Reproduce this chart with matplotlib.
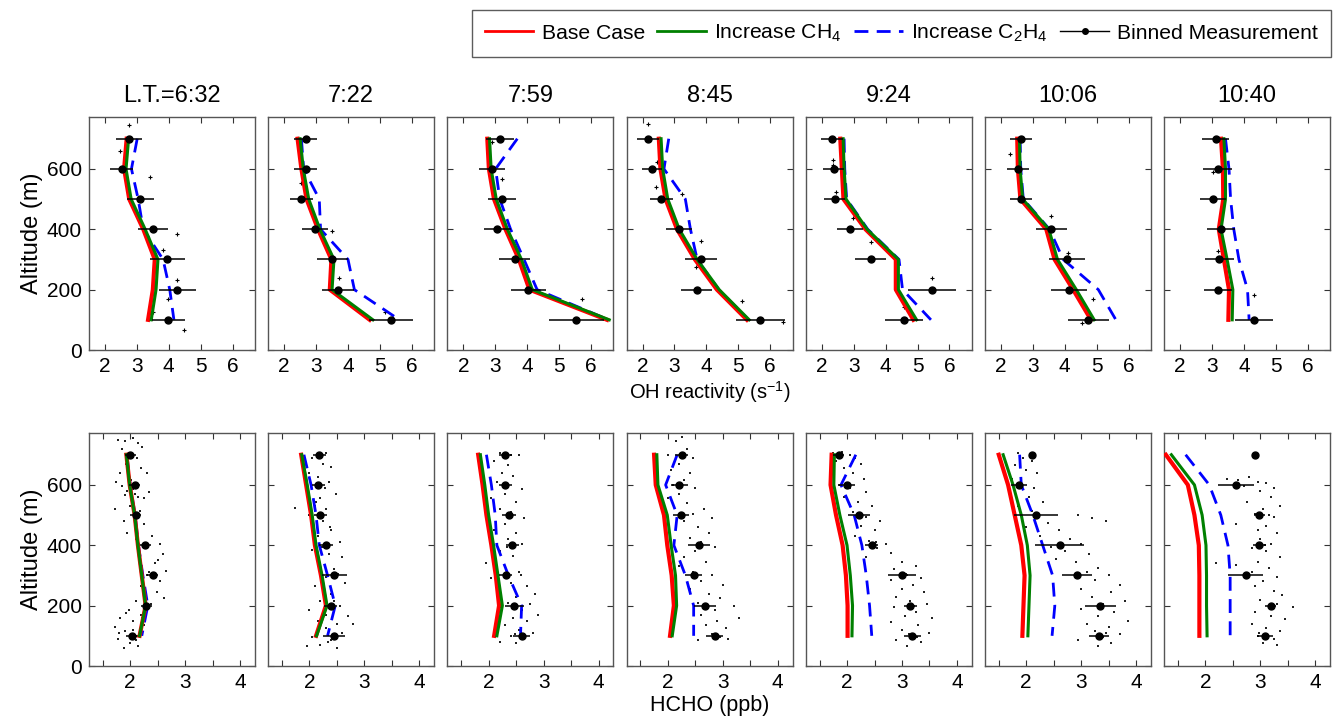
import matplotlib
matplotlib.use('Agg')
import matplotlib.pyplot as plt
from matplotlib.lines import Line2D

plt.rcParams['font.family'] = ['Liberation Sans', 'DejaVu Sans']
plt.rcParams['mathtext.default'] = 'regular'

# panel titles (local time)
times = ['L.T.=6:32', '7:22', '7:59', '8:45', '9:24', '10:06', '10:40']
# altitude grid of model output and binned measurements (m)
alt = [700, 600, 500, 400, 300, 200, 100]

# ---- OH reactivity (s-1) ----
oh_base = [
    [2.68, 2.60, 2.76, 3.20, 3.56, 3.50, 3.35],
    [2.42, 2.54, 2.70, 3.06, 3.48, 3.43, 4.68],
    [2.75, 2.80, 2.96, 3.32, 3.74, 4.07, 6.50],
    [2.51, 2.56, 2.72, 3.08, 3.64, 4.33, 5.27],
    [2.58, 2.63, 2.68, 3.37, 4.32, 4.32, 4.87],
    [2.51, 2.53, 2.61, 3.42, 3.68, 4.26, 4.82],
    [3.28, 3.34, 3.35, 3.21, 3.37, 3.53, 3.51]]
oh_ch4 = [
    [2.74, 2.66, 2.82, 3.26, 3.66, 3.60, 3.45],
    [2.50, 2.60, 2.77, 3.12, 3.56, 3.50, 4.78],
    [2.82, 2.87, 3.03, 3.38, 3.82, 4.16, 6.57],
    [2.58, 2.63, 2.79, 3.15, 3.71, 4.40, 5.34],
    [2.67, 2.70, 2.76, 3.42, 4.40, 4.40, 4.97],
    [2.58, 2.60, 2.68, 3.50, 3.77, 4.36, 4.92],
    [3.37, 3.42, 3.42, 3.28, 3.47, 3.65, 3.63]]
oh_c2h4 = [
    [3.01, 2.83, 3.04, 3.20, 3.82, 4.03, 4.16],
    [2.54, 2.61, 3.10, 3.14, 4.00, 4.20, 5.61],
    [3.69, 3.01, 3.14, 3.48, 3.90, 4.31, 6.55],
    [2.82, 2.67, 3.34, 3.50, 3.71, 4.39, 5.32],
    [2.70, 2.72, 2.78, 3.44, 4.42, 4.53, 5.42],
    [2.60, 2.62, 2.70, 3.52, 3.95, 5.05, 5.60],
    [3.42, 3.53, 3.58, 3.68, 3.84, 4.11, 4.16]]
oh_meas = [
    [2.76, 2.52, 3.11, 3.51, 3.95, 4.27, 3.99],
    [2.68, 2.68, 2.54, 2.96, 3.51, 3.69, 5.35],
    [3.14, 2.89, 3.22, 3.06, 3.61, 4.03, 5.54],
    [2.18, 2.30, 2.59, 3.14, 3.83, 3.69, 5.69],
    [2.32, 2.37, 2.40, 2.89, 3.53, 5.45, 4.58],
    [2.63, 2.53, 2.63, 3.58, 4.07, 4.13, 4.74],
    [3.11, 3.18, 3.03, 3.28, 3.23, 3.18, 4.32]]
oh_err = [
    [0.40, 0.35, 0.43, 0.48, 0.55, 0.59, 0.52],
    [0.36, 0.36, 0.35, 0.40, 0.48, 0.51, 0.70],
    [0.44, 0.40, 0.44, 0.42, 0.48, 0.55, 0.86],
    [0.35, 0.31, 0.35, 0.42, 0.50, 0.49, 0.76],
    [0.35, 0.33, 0.34, 0.41, 0.49, 0.74, 0.60],
    [0.35, 0.34, 0.35, 0.48, 0.55, 0.55, 0.63],
    [0.43, 0.45, 0.40, 0.43, 0.45, 0.43, 0.60]]
# individual OH reactivity samples
oh_raw_x = [
    [2.76, 2.47, 3.41, 4.27, 3.82, 4.27, 3.98, 3.51, 4.48],
    [2.54, 3.51, 3.71, 5.15],
    [2.90, 3.22, 5.72],
    [2.18, 2.46, 2.43, 3.24, 3.83, 3.68, 5.11, 6.40],
    [2.36, 2.34, 2.44, 2.98, 3.53, 5.45, 4.58],
    [2.29, 2.63, 3.58, 4.11, 4.89, 4.55],
    [3.02, 3.18, 4.32]]
oh_raw_alt = [
    [746, 660, 572, 385, 331, 232, 168, 127, 66],
    [552, 394, 238, 127],
    [688, 565, 169],
    [749, 624, 541, 517, 362, 276, 161, 92],
    [631, 614, 525, 438, 357, 238, 144],
    [649, 523, 445, 320, 168, 88],
    [591, 329, 182]]

# ---- HCHO (ppb) ----
hcho_base = [
    [1.93, 1.99, 2.08, 2.14, 2.21, 2.28, 2.17],
    [1.85, 1.94, 2.03, 2.10, 2.21, 2.30, 2.12],
    [1.81, 1.89, 1.96, 2.05, 2.13, 2.19, 2.10],
    [1.75, 1.78, 1.93, 1.99, 2.07, 2.11, 2.04],
    [1.72, 1.70, 1.80, 1.92, 1.98, 2.01, 2.01],
    [1.50, 1.67, 1.79, 1.91, 1.97, 1.95, 1.93],
    [1.28, 1.68, 1.80, 1.88, 1.89, 1.89, 1.89]]
hcho_ch4 = [
    [1.93, 1.99, 2.08, 2.14, 2.21, 2.28, 2.17],
    [1.86, 1.96, 2.05, 2.12, 2.23, 2.32, 2.13],
    [1.85, 1.93, 2.00, 2.09, 2.17, 2.25, 2.15],
    [1.80, 1.82, 1.99, 2.06, 2.14, 2.16, 2.08],
    [1.77, 1.76, 1.87, 2.00, 2.06, 2.10, 2.09],
    [1.58, 1.76, 1.91, 2.02, 2.07, 2.05, 2.03],
    [1.38, 1.80, 1.94, 2.01, 2.02, 2.02, 2.03]]
hcho_c2h4 = [
    [1.94, 2.00, 2.09, 2.15, 2.23, 2.32, 2.21],
    [1.90, 2.03, 2.12, 2.18, 2.33, 2.47, 2.33],
    [1.96, 2.05, 2.12, 2.15, 2.36, 2.60, 2.58],
    [2.17, 1.96, 2.17, 2.11, 2.32, 2.47, 2.47],
    [2.16, 1.89, 2.13, 2.27, 2.35, 2.41, 2.45],
    [1.88, 1.91, 2.12, 2.30, 2.48, 2.52, 2.47],
    [1.64, 2.07, 2.28, 2.41, 2.45, 2.45, 2.45]]
hcho_meas = [
    [2.00, 2.08, 2.10, 2.27, 2.41, 2.29, 2.03],
    [2.18, 2.16, 2.20, 2.30, 2.45, 2.39, 2.44],
    [2.30, 2.30, 2.37, 2.43, 2.31, 2.47, 2.60],
    [2.25, 2.21, 2.24, 2.56, 2.47, 2.68, 2.85],
    [1.85, 2.00, 2.21, 2.45, 3.00, 3.15, 3.19],
    [2.10, 1.87, 2.18, 2.61, 2.92, 3.35, 3.33],
    [2.90, 2.56, 2.98, 2.98, 2.73, 3.19, 3.08]]
hcho_err = [
    [0.10, 0.10, 0.10, 0.10, 0.10, 0.10, 0.10],
    [0.12, 0.12, 0.12, 0.12, 0.23, 0.12, 0.20],
    [0.12, 0.12, 0.12, 0.12, 0.12, 0.17, 0.15],
    [0.12, 0.15, 0.15, 0.20, 0.15, 0.20, 0.15],
    [0.10, 0.15, 0.20, 0.12, 0.25, 0.12, 0.15],
    [0.00, 0.15, 0.40, 0.45, 0.27, 0.28, 0.18],
    [0.00, 0.33, 0.10, 0.12, 0.32, 0.10, 0.15]]
# individual HCHO samples
hcho_raw_x = [
    [1.78, 1.90, 2.05, 2.15, 2.22, 1.85, 1.98, 2.12, 1.93, 2.20, 1.82, 2.30, 1.75, 2.05, 2.35, 1.90, 2.25,
     1.72, 2.00, 2.18, 1.88, 2.25, 1.95, 2.10, 2.40, 2.55, 2.30, 2.60, 2.18, 2.45, 2.65, 2.30, 2.55, 2.20,
     2.48, 2.62, 2.10, 2.38, 1.98, 2.20, 1.82, 2.05, 1.72, 2.25, 1.90, 2.12, 1.78, 2.00, 2.15, 1.88,
     1.95, 2.08, 1.85, 2.15, 2.02, 2.28, 2.35, 2.50, 2.42, 2.22, 2.05, 1.92, 2.10, 1.80],
    [2.30, 2.05, 2.25, 2.40, 2.00, 2.15, 2.35, 1.95, 2.48, 2.20, 2.10, 2.30, 1.73, 2.00, 2.25, 2.40, 2.15,
     2.55, 2.05, 2.35, 2.60, 2.20, 2.45, 2.30, 2.65, 2.10, 2.40, 2.20, 2.55, 2.00, 2.30, 2.70, 2.15, 2.50,
     2.30, 2.60, 2.05, 2.40, 2.20, 2.50, 1.95, 2.80, 2.28, 2.12, 2.38, 2.22, 2.52, 2.18, 2.33, 2.45],
    [2.20, 2.40, 2.55, 2.10, 2.35, 2.25, 2.45, 2.15, 2.60, 2.30, 2.05, 2.50, 2.20, 2.40, 2.65, 2.30, 2.10,
     2.50, 2.35, 2.60, 2.20, 2.45, 1.95, 2.30, 2.55, 2.05, 2.40, 2.70, 2.20, 2.85, 2.50, 2.35, 2.75, 2.20,
     2.60, 2.90, 2.45, 2.70, 2.30, 2.55, 2.80, 2.40, 2.65, 2.20, 2.50, 2.28, 2.42, 2.33, 2.58, 2.48],
    [2.25, 2.15, 2.35, 2.00, 2.45, 2.20, 2.05, 2.40, 2.30, 2.10, 2.50, 2.20, 2.00, 2.35, 2.65, 2.45, 2.80,
     2.30, 2.55, 2.75, 2.40, 2.60, 2.85, 2.50, 2.30, 2.70, 2.20, 2.45, 2.80, 2.60, 3.00, 2.40, 2.75, 2.95,
     2.55, 3.20, 2.85, 2.60, 3.30, 2.90, 2.70, 3.05, 2.80, 2.95, 2.55, 3.10, 2.62, 2.52, 2.72, 2.88],
    [1.75, 1.90, 2.05, 2.15, 1.80, 2.25, 1.95, 2.10, 1.70, 2.30, 1.85, 2.05, 2.35, 1.95, 2.20, 2.45, 2.10,
     2.35, 2.60, 2.25, 2.50, 2.15, 2.40, 2.70, 2.55, 2.80, 2.35, 3.00, 3.25, 2.85, 3.10, 3.35, 2.80, 3.20,
     3.00, 3.40, 2.90, 3.15, 3.45, 2.85, 3.25, 3.05, 3.55, 2.80, 3.30, 3.00, 3.50, 3.15, 2.90, 3.35, 3.10,
     1.82, 1.98, 2.28, 2.52, 3.08, 3.22, 3.12, 3.28],
    [1.85, 1.95, 2.10, 1.80, 2.00, 2.20, 1.75, 1.90, 2.15, 1.70, 2.05, 2.30, 1.85, 2.10, 2.95, 3.20, 3.45,
     2.40, 2.00, 2.60, 2.25, 2.80, 3.00, 2.45, 2.70, 3.15, 2.55, 2.90, 3.30, 3.10, 3.50, 3.25, 3.70, 3.00,
     3.55, 3.20, 3.80, 3.40, 3.00, 3.60, 3.30, 3.85, 3.10, 3.50, 3.25, 3.70, 3.40, 2.95, 3.55, 3.30,
     3.38, 3.45, 3.28, 3.35],
    [2.40, 2.60, 2.80, 2.95, 3.10, 3.25, 2.70, 3.00, 3.20, 2.75, 3.35, 3.05, 2.90, 3.25, 2.55, 3.10, 2.95,
     3.30, 3.00, 3.20, 2.85, 3.10, 3.35, 2.95, 2.20, 2.55, 3.15, 2.85, 3.30, 3.05, 2.90, 3.25, 3.40, 3.00,
     3.30, 3.60, 2.90, 3.20, 3.45, 2.85, 3.10, 3.35, 2.95, 3.25, 3.05, 3.30, 3.15, 3.08, 3.22, 2.98]]
hcho_raw_alt = [
    [750, 745, 755, 740, 725, 720, 705, 690, 670, 655, 640, 640, 610, 585, 575, 565, 555,
     520, 530, 515, 480, 470, 440, 420, 430, 405, 390, 370, 355, 340, 315, 300, 280, 265,
     245, 225, 215, 205, 185, 170, 160, 150, 130, 135, 115, 100, 90, 75, 65, 60,
     580, 570, 595, 560, 615, 395, 310, 350, 290, 160, 120, 175, 85, 110],
    [705, 690, 670, 660, 640, 625, 610, 580, 570, 555, 530, 520, 525, 500, 480, 450, 430,
     410, 385, 370, 360, 340, 320, 295, 275, 265, 240, 215, 200, 185, 170, 165, 150, 140,
     125, 110, 95, 85, 70, 60, 65, 140, 590, 545, 460, 395, 305, 120, 80, 215],
    [705, 700, 700, 680, 665, 640, 630, 610, 585, 570, 555, 545, 520, 510, 490, 470, 450,
     440, 420, 405, 380, 365, 340, 330, 310, 290, 275, 265, 250, 240, 230, 210, 205, 195,
     185, 170, 160, 150, 135, 120, 110, 100, 95, 80, 75, 600, 500, 395, 300, 105],
    [760, 745, 720, 700, 690, 670, 650, 640, 615, 600, 590, 570, 555, 540, 520, 505, 490,
     480, 460, 440, 425, 410, 395, 380, 360, 345, 330, 310, 300, 280, 270, 255, 240, 225,
     210, 200, 185, 170, 160, 150, 135, 125, 105, 95, 85, 90, 400, 300, 205, 105],
    [705, 710, 700, 690, 680, 670, 655, 640, 625, 620, 600, 590, 575, 560, 545, 530, 510,
     495, 480, 465, 450, 430, 415, 405, 390, 375, 360, 345, 330, 320, 300, 290, 285, 270,
     255, 245, 230, 215, 205, 195, 180, 165, 160, 145, 135, 120, 110, 100, 85, 80, 65,
     695, 605, 505, 410, 305, 200, 105, 95],
    [705, 690, 680, 665, 650, 640, 620, 605, 590, 570, 560, 545, 530, 515, 500, 490, 480,
     475, 460, 450, 430, 420, 405, 395, 380, 370, 355, 345, 325, 310, 300, 285, 270, 255,
     245, 230, 215, 205, 190, 180, 165, 150, 140, 130, 115, 105, 95, 85, 75, 65,
     200, 110, 95, 195],
    [620, 615, 625, 610, 605, 590, 595, 580, 560, 545, 530, 520, 505, 495, 470, 465, 450,
     440, 420, 405, 390, 380, 360, 345, 340, 335, 325, 310, 295, 280, 265, 250, 235, 220,
     205, 195, 180, 165, 155, 140, 125, 115, 100, 90, 75, 70, 500, 400, 200, 110]]

W, H = 1335, 721
fig = plt.figure(figsize=(W / 100, H / 100), dpi=100)

lefts = [89 + i * 179.2 for i in range(7)]
pw, ph = 166, 233
row_top = [117, 433]


def style_axes(ax):
    ax.tick_params(direction='in', top=True, right=True, length=4, width=0.8,
                   labelsize=15, colors='#333333', labelcolor='black', pad=5)
    for s in ax.spines.values():
        s.set_color('#555555')
        s.set_linewidth(1.0)


for row in range(2):
    for i in range(7):
        ax = fig.add_axes([lefts[i] / W, 1 - (row_top[row] + ph) / H, pw / W, ph / H])
        style_axes(ax)
        if row == 0:
            base, ch4, c2h4 = oh_base[i], oh_ch4[i], oh_c2h4[i]
            meas, err = oh_meas[i], oh_err[i]
            ax.plot(oh_raw_x[i], oh_raw_alt[i], '+', color='black', ms=3, mew=0.8, zorder=2)
        else:
            base, ch4, c2h4 = hcho_base[i], hcho_ch4[i], hcho_c2h4[i]
            meas, err = hcho_meas[i], hcho_err[i]
            ax.scatter(hcho_raw_x[i], hcho_raw_alt[i], s=2.5, color='#222222', marker='s',
                       linewidths=0, zorder=2)
        ax.plot(c2h4, alt, color='#0000ff', lw=2, ls=(0, (5, 3)), zorder=3)
        ax.plot(base, alt, color='#ff0000', lw=3, zorder=4)
        ax.plot(ch4, alt, color='#008000', lw=2.2, zorder=5)
        ax.errorbar(meas, alt, xerr=err, fmt='o', color='black', ms=5, elinewidth=1.1,
                    capsize=0, zorder=6)

        ax.set_ylim(0, 772)
        ax.set_yticks([0, 200, 400, 600])
        if row == 0:
            ax.set_xlim(1.5, 6.7)
            ax.set_xticks([2, 3, 4, 5, 6])
            ax.set_title(times[i], fontsize=17, pad=11)
        else:
            ax.set_xlim(1.25, 4.27)
            ax.set_xticks([1.5, 2, 2.5, 3, 3.5, 4])
            ax.set_xticklabels(['', '2', '', '3', '', '4'])
        if i == 0:
            ax.set_ylabel('Altitude (m)', fontsize=17, labelpad=3)
        else:
            ax.set_yticklabels([])
        if i == 3:
            if row == 0:
                ax.set_xlabel('OH reactivity (s$^{-1}$)', fontsize=14.5, labelpad=2)
            else:
                ax.set_xlabel('HCHO (ppb)', fontsize=15.5, labelpad=2)

handles = [Line2D([], [], color='#ff0000', lw=2),
           Line2D([], [], color='#008000', lw=2),
           Line2D([], [], color='#0000ff', lw=2, ls=(0, (5, 3))),
           Line2D([], [], color='black', lw=1, marker='o', ms=4)]
labels = ['Base Case', 'Increase CH$_4$', 'Increase C$_2$H$_4$', 'Binned Measurement']
leg = fig.legend(handles, labels, ncol=4, loc='upper right', bbox_to_anchor=(0.997, 0.986),
                 borderaxespad=0, fontsize=15.2, frameon=True, fancybox=False,
                 edgecolor='#333333', handlelength=2.3, columnspacing=0.6,
                 handletextpad=0.4, borderpad=0.6)
leg.get_frame().set_linewidth(1.0)

fig.savefig('out.png', dpi=100)
